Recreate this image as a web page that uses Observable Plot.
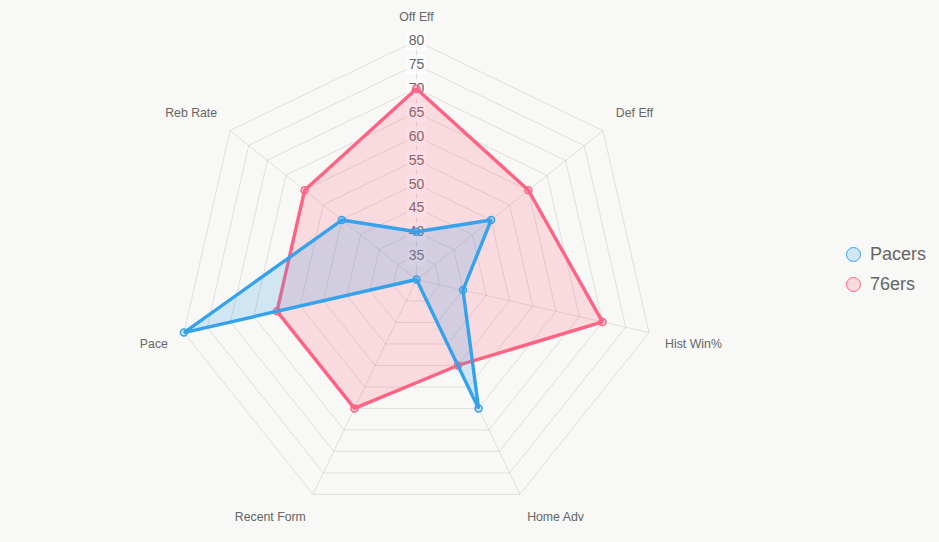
<!DOCTYPE html>
<html>
<head>
<meta charset="utf-8">
<script src="https://cdn.jsdelivr.net/npm/d3@7"></script>
<script src="https://cdn.jsdelivr.net/npm/@observablehq/plot@0.6"></script>
<style>
  html, body { margin: 0; padding: 0; background: #f8f8f6; }
  #wrap { position: relative; width: 939px; height: 542px; font-family: "Helvetica Neue", Helvetica, Arial, "Liberation Sans", sans-serif; }
  #legend { position: absolute; left: 846px; top: 239px; color: #666; font-size: 18px; }
  .item { display: flex; align-items: center; height: 30px; }
  .sw { width: 13px; height: 13px; border-radius: 50%; border: 1.5px solid; margin-right: 9px; box-sizing: content-box; }
</style>
</head>
<body>
<div id="wrap"><div id="chart"></div><div id="legend"></div></div>
<script>
// ---- data ----
const axesLabels = ["Off Eff", "Def Eff", "Hist Win%", "Home Adv", "Recent Form", "Pace", "Reb Rate"];
const seriesNames = ["Pacers", "76ers"];
const pacers = [40, 50, 40, 60, 30, 80, 50];
const sixers = [70, 60, 70, 50, 60, 60, 60];
const tickValues = [35, 40, 45, 50, 55, 60, 65, 70, 75, 80];
const scaleMin = 30, scaleMax = 80;

// ---- layout ----
const W = 939, H = 542;
const cx = 416, cy = 279, Rpx = 238.5;
const k = Rpx / (scaleMax - scaleMin);
const labelR = (Rpx + 16.5) / k;
const colors = {Pacers: "rgb(54,162,235)", "76ers": "rgb(255,99,132)"};
const fills = {Pacers: "rgba(54,162,235,0.2)", "76ers": "rgba(255,99,132,0.2)"};

const n = axesLabels.length;
const ang = i => i * 2 * Math.PI / n;
const px = (i, r) => r * Math.sin(ang(i));
const py = (i, r) => r * Math.cos(ang(i));

const rings = tickValues.flatMap(t => axesLabels.map((a, i) => ({t, x: px(i, t - scaleMin), y: py(i, t - scaleMin)})));
const spokes = axesLabels.map((a, i) => ({x2: px(i, scaleMax - scaleMin), y2: py(i, scaleMax - scaleMin)}));
const tickData = tickValues.map(t => ({t, x: 0, y: t - scaleMin}));
const labels = axesLabels.map((a, i) => {
  const s = Math.sin(ang(i)), c = Math.cos(ang(i));
  return {a, x: px(i, labelR), y: py(i, labelR),
    ta: Math.abs(s) < 0.01 ? "middle" : (s > 0 ? "start" : "end"),
    la: c > 0 ? "bottom" : "top"};
});
const mk = (name, vals) => vals.map((v, i) => ({name, x: px(i, v - scaleMin), y: py(i, v - scaleMin)}));
const dsP = mk("Pacers", pacers), ds7 = mk("76ers", sixers);

const labelMarks = [];
for (const ta of ["start", "middle", "end"]) for (const la of ["top", "bottom"]) {
  const d = labels.filter(l => l.ta === ta && l.la === la);
  if (d.length) labelMarks.push(Plot.text(d, {x: "x", y: "y", text: "a", textAnchor: ta, lineAnchor: la, dy: la === "top" ? 3 : -4, fontSize: 12.3, fill: "#666"}));
}

const dsMarks = ds => [
  Plot.line(ds, {x: "x", y: "y", curve: "linear-closed", fill: fills[ds[0].name], stroke: colors[ds[0].name], strokeWidth: 3.4, strokeLinejoin: "miter"}),
  Plot.dot(ds, {x: "x", y: "y", r: 3.5, fill: fills[ds[0].name], stroke: colors[ds[0].name], strokeWidth: 1.5})
];

const chart = Plot.plot({
  width: W, height: H,
  margin: 0,
  style: {background: "transparent", fontFamily: "\"Helvetica Neue\", Helvetica, Arial, \"Liberation Sans\", sans-serif"},
  x: {domain: [-cx / k, (W - cx) / k], axis: null},
  y: {domain: [-(H - cy) / k, cy / k], axis: null},
  marks: [
    Plot.line(rings, {x: "x", y: "y", z: "t", curve: "linear-closed", stroke: "#000", strokeOpacity: 0.1, strokeWidth: 1}),
    Plot.link(spokes, {x1: 0, y1: 0, x2: "x2", y2: "y2", stroke: "#000", strokeOpacity: 0.1, strokeWidth: 1}),
    Plot.dot(tickData, {x: "x", y: "y", symbol: "square", r: 10.8, fill: "white", fillOpacity: 0.75}),
    Plot.text(tickData, {x: "x", y: "y", text: d => String(d.t), fontSize: 14, fill: "#666"}),
    ...labelMarks,
    ...dsMarks(ds7),
    ...dsMarks(dsP)
  ]
});
document.getElementById("chart").appendChild(chart);

const legend = document.getElementById("legend");
for (const s of seriesNames) {
  const it = document.createElement("div"); it.className = "item";
  const sw = document.createElement("span"); sw.className = "sw";
  sw.style.borderColor = colors[s]; sw.style.background = fills[s];
  const tx = document.createElement("span"); tx.textContent = s;
  it.appendChild(sw); it.appendChild(tx); legend.appendChild(it);
}
</script>
</body>
</html>
